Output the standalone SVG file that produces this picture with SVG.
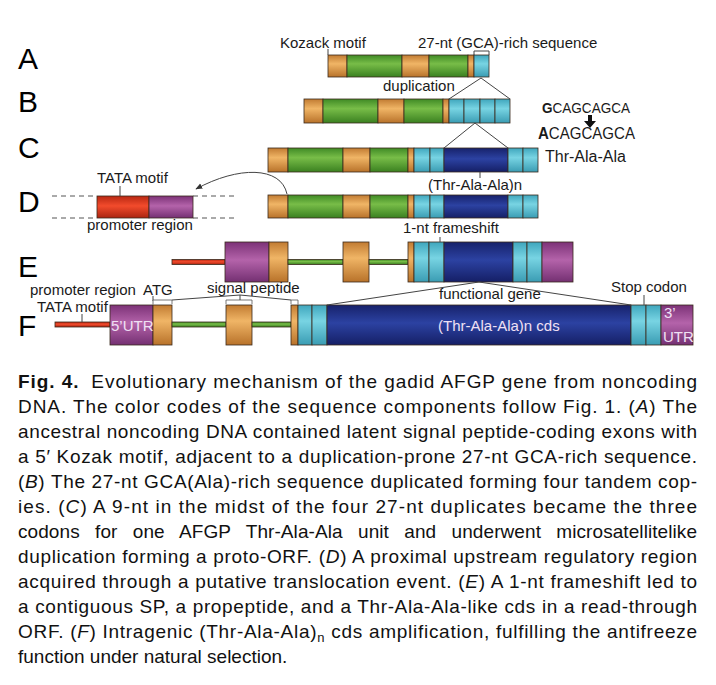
<svg xmlns="http://www.w3.org/2000/svg" width="716" height="685" viewBox="0 0 716 685">
<defs>
<linearGradient id="gO" x1="0" y1="0" x2="0" y2="1"><stop offset="0" stop-color="#c17b32"/><stop offset="0.4" stop-color="#f0b566"/><stop offset="1" stop-color="#b8722a"/></linearGradient>
<linearGradient id="gG" x1="0" y1="0" x2="0" y2="1"><stop offset="0" stop-color="#3f8a25"/><stop offset="0.4" stop-color="#78bd48"/><stop offset="1" stop-color="#3a8020"/></linearGradient>
<linearGradient id="gC" x1="0" y1="0" x2="0" y2="1"><stop offset="0" stop-color="#3fa6bd"/><stop offset="0.4" stop-color="#78d4e3"/><stop offset="1" stop-color="#3a9cb3"/></linearGradient>
<linearGradient id="gB" x1="0" y1="0" x2="0" y2="1"><stop offset="0" stop-color="#17226b"/><stop offset="0.45" stop-color="#2c42a2"/><stop offset="1" stop-color="#151f66"/></linearGradient>
<linearGradient id="gP" x1="0" y1="0" x2="0" y2="1"><stop offset="0" stop-color="#7c3277"/><stop offset="0.45" stop-color="#b463aa"/><stop offset="1" stop-color="#743072"/></linearGradient>
<linearGradient id="gR" x1="0" y1="0" x2="0" y2="1"><stop offset="0" stop-color="#b82812"/><stop offset="0.45" stop-color="#f24b2c"/><stop offset="1" stop-color="#aa2410"/></linearGradient>
<marker id="ah" viewBox="0 0 10 10" refX="9" refY="5" markerWidth="7" markerHeight="7" orient="auto"><path d="M0,1 L10,5 L0,9 Z" fill="#333"/></marker>
<style>
.o{fill:url(#gO)}.g{fill:url(#gG)}.c{fill:url(#gC)}.b{fill:url(#gB)}.p{fill:url(#gP)}.r{fill:url(#gR)}
.o,.g,.c,.b,.p,.r{stroke:#3a2a1c;stroke-width:0.8}
.ln{fill:none;stroke:#444;stroke-width:1}
.br{fill:#fff;stroke:#555;stroke-width:0.8}
.dash{fill:none;stroke:#555;stroke-width:1;stroke-dasharray:5 4}
.lab{font-family:"Liberation Sans",Arial,sans-serif;font-size:15px;fill:#1a1a1a}
.big{font-family:"Liberation Sans",Arial,sans-serif;font-size:30px;fill:#000}
.wt{font-family:"Liberation Sans",Arial,sans-serif;font-size:15px;fill:#f0e0f4}
.cap{font-family:"Liberation Sans",Arial,sans-serif;font-size:19px;fill:#111}
</style>
</defs>
<rect width="716" height="685" fill="#fff"/>

<g id="letters">
<text class="big" x="18" y="69">A</text>
<text class="big" x="18" y="112">B</text>
<text class="big" x="18" y="158">C</text>
<text class="big" x="18" y="212">D</text>
<text class="big" x="18" y="277">E</text>
<text class="big" x="18" y="336">F</text>
</g>

<g id="row-A">
<rect class="o" x="328" y="55" width="19" height="22"/>
<rect class="g" x="347" y="55" width="55" height="22"/>
<rect class="o" x="402" y="55" width="27" height="22"/>
<rect class="g" x="429" y="55" width="39" height="22"/>
<rect class="o" x="468" y="55" width="6" height="22"/>
<rect class="c" x="474" y="55" width="15" height="22"/>
<text class="lab" x="280" y="48">Kozack motif</text>
<text class="lab" x="418" y="48">27-nt (GCA)-rich sequence</text>
</g>

<g id="row-B">
<rect class="o" x="304" y="99" width="19" height="24"/>
<rect class="g" x="323" y="99" width="55" height="24"/>
<rect class="o" x="378" y="99" width="26" height="24"/>
<rect class="g" x="404" y="99" width="39" height="24"/>
<rect class="o" x="443" y="99" width="6" height="24"/>
<rect class="c" x="449" y="99" width="15" height="24"/>
<rect class="c" x="464" y="99" width="16" height="24"/>
<rect class="c" x="480" y="99" width="15" height="24"/>
<rect class="c" x="495" y="99" width="15" height="24"/>
<text class="lab" x="383" y="91">duplication</text>
</g>

<g id="mutation">
<text class="lab" x="542" y="113" textLength="88" lengthAdjust="spacingAndGlyphs"><tspan font-weight="bold">G</tspan>CAGCAGCA</text>
<path d="M588,115 H592 V121 H596 L590,128 L584,121 H588 Z" fill="#111"/>
<text class="lab" x="538" y="139" style="font-size:16px" textLength="97" lengthAdjust="spacingAndGlyphs"><tspan font-weight="bold">A</tspan>CAGCAGCA</text>
<text class="lab" x="545" y="162" style="font-size:16px">Thr-Ala-Ala</text>
</g>

<g id="row-C">
<rect class="o" x="268" y="148" width="20" height="24"/>
<rect class="g" x="288" y="148" width="55" height="24"/>
<rect class="o" x="343" y="148" width="27" height="24"/>
<rect class="g" x="370" y="148" width="38" height="24"/>
<rect class="o" x="408" y="148" width="6" height="24"/>
<rect class="c" x="414" y="148" width="16" height="24"/>
<rect class="c" x="430" y="148" width="14" height="24"/>
<rect class="b" x="444" y="148" width="64" height="24"/>
<rect class="c" x="508" y="148" width="15" height="24"/>
<rect class="c" x="523" y="148" width="15" height="24"/>
<text class="lab" x="428" y="190">(Thr-Ala-Ala)n</text>
</g>

<g id="promoter-D">
<path class="dash" d="M52,196 H97 M193,196 H237 M52,218 H97 M193,218 H237"/>
<rect class="r" x="97" y="196" width="52" height="22"/>
<rect class="p" x="149" y="196" width="44" height="22"/>
<text class="lab" x="97" y="183">TATA motif</text>
<text class="lab" x="87" y="230">promoter region</text>
</g>

<g id="row-D">
<rect class="o" x="268" y="195" width="20" height="23"/>
<rect class="g" x="288" y="195" width="55" height="23"/>
<rect class="o" x="343" y="195" width="27" height="23"/>
<rect class="g" x="370" y="195" width="38" height="23"/>
<rect class="o" x="408" y="195" width="6" height="23"/>
<rect class="c" x="414" y="195" width="16" height="23"/>
<rect class="c" x="430" y="195" width="14" height="23"/>
<rect class="b" x="444" y="195" width="64" height="23"/>
<rect class="c" x="508" y="195" width="15" height="23"/>
<rect class="c" x="523" y="195" width="15" height="23"/>
<text class="lab" x="403" y="233">1-nt frameshift</text>
</g>

<g id="row-E">
<rect class="r" x="172" y="259.5" width="53" height="5"/>
<rect class="p" x="225" y="242" width="44" height="40"/>
<rect class="o" x="269" y="242" width="19" height="40"/>
<rect class="g" x="288" y="259.5" width="55" height="5"/>
<rect class="o" x="343" y="242" width="26" height="40"/>
<rect class="g" x="369" y="259.5" width="39" height="5"/>
<rect class="o" x="408" y="242" width="6" height="40"/>
<rect class="c" x="414" y="242" width="15" height="40"/>
<rect class="c" x="429" y="242" width="15" height="40"/>
<rect class="b" x="444" y="242" width="69" height="40"/>
<rect class="c" x="513" y="242" width="14" height="40"/>
<rect class="c" x="527" y="242" width="15" height="40"/>
<rect class="p" x="542" y="242" width="31" height="40"/>
</g>

<g id="row-F">
<rect class="r" x="55" y="322" width="55" height="5"/>
<rect class="p" x="110" y="305" width="43" height="40"/>
<rect class="o" x="153" y="305" width="19" height="40"/>
<rect class="g" x="172" y="322" width="54" height="5"/>
<rect class="o" x="226" y="305" width="26" height="40"/>
<rect class="g" x="252" y="322" width="39" height="5"/>
<rect class="o" x="291" y="305" width="7" height="40"/>
<rect class="c" x="298" y="305" width="14" height="40"/>
<rect class="c" x="312" y="305" width="15" height="40"/>
<rect class="b" x="327" y="305" width="304" height="40"/>
<rect class="c" x="631" y="305" width="15" height="40"/>
<rect class="c" x="646" y="305" width="15" height="40"/>
<rect class="p" x="661" y="305" width="32" height="40"/>
<text class="wt" x="111" y="331">5’UTR</text>
<text class="wt" x="438" y="331">(Thr-Ala-Ala)n cds</text>
<text class="wt" x="664" y="318">3’</text>
<text class="wt" x="663" y="342">UTR</text>
<text class="lab" x="30" y="295">promoter region</text>
<text class="lab" x="143" y="295">ATG</text>
<text class="lab" x="37" y="312">TATA motif</text>
<text class="lab" x="207" y="293">signal peptide</text>
<text class="lab" x="439" y="299">functional gene</text>
<text class="lab" x="611" y="292">Stop codon</text>
</g>

<g id="connectors">
<path class="ln" d="M328,49 V55"/>
<path class="ln" d="M474,55 V51 H489 V55"/>
<path class="ln" d="M449,99 L481,78 L510,99"/>
<path class="ln" d="M444,148 L475,123 L508,148"/>
<path class="ln" d="M480,172 V178"/>
<path class="ln" d="M120,186 V196"/>
<path class="ln" d="M287,194 C281,166 238,166 196,189" marker-end="url(#ah)"/>
<path class="ln" d="M440,237 V242"/>
<path class="ln" d="M327,305 L479,282 L631,305"/>
<path class="ln" d="M644,295 V305"/>
<path class="ln" d="M82,314 V322"/>
<path class="ln" d="M153,296 V301"/>
<path class="br" d="M153,304 V300 H172 V304"/>
<path class="br" d="M226,304 V300 H252 V304"/>
<path class="br" d="M291,304 V300 H298 V304"/>
<path class="ln" d="M172,300 L240,295 L291,300 M240,295 V300"/>
</g>

<g id="caption">
<text class="cap" x="18" y="388" textLength="679" lengthAdjust="spacing"><tspan font-weight="bold">Fig. 4.</tspan><tspan dx="12">Evolutionary mechanism of the gadid AFGP gene from noncoding</tspan></text>
<text class="cap" x="18" y="413" textLength="679" lengthAdjust="spacing">DNA. The color codes of the sequence components follow Fig. 1. (<tspan font-style="italic">A</tspan>) The</text>
<text class="cap" x="18" y="438" textLength="679" lengthAdjust="spacing">ancestral noncoding DNA contained latent signal peptide-coding exons with</text>
<text class="cap" x="18" y="463" textLength="679" lengthAdjust="spacing">a 5′ Kozak motif, adjacent to a duplication-prone 27-nt GCA-rich sequence.</text>
<text class="cap" x="18" y="488" textLength="679" lengthAdjust="spacing">(<tspan font-style="italic">B</tspan>) The 27-nt GCA(Ala)-rich sequence duplicated forming four tandem cop-</text>
<text class="cap" x="18" y="513" textLength="679" lengthAdjust="spacing">ies. (<tspan font-style="italic">C</tspan>) A 9-nt in the midst of the four 27-nt duplicates became the three</text>
<text class="cap" x="18" y="538" textLength="679" lengthAdjust="spacing" style="word-spacing:10px">codons for one AFGP Thr-Ala-Ala unit and underwent microsatellitelike</text>
<text class="cap" x="18" y="563" textLength="679" lengthAdjust="spacing">duplication forming a proto-ORF. (<tspan font-style="italic">D</tspan>) A proximal upstream regulatory region</text>
<text class="cap" x="18" y="588" textLength="679" lengthAdjust="spacing">acquired through a putative translocation event. (<tspan font-style="italic">E</tspan>) A 1-nt frameshift led to</text>
<text class="cap" x="18" y="613" textLength="679" lengthAdjust="spacing">a contiguous SP, a propeptide, and a Thr-Ala-Ala-like cds in a read-through</text>
<text class="cap" x="18" y="638" textLength="679" lengthAdjust="spacing">ORF. (<tspan font-style="italic">F</tspan>) Intragenic (Thr-Ala-Ala)<tspan dy="4" font-size="13">n</tspan><tspan dy="-4"> cds amplification, fulfilling the antifreeze</tspan></text>
<text class="cap" x="18" y="663">function under natural selection.</text>
</g>
</svg>
